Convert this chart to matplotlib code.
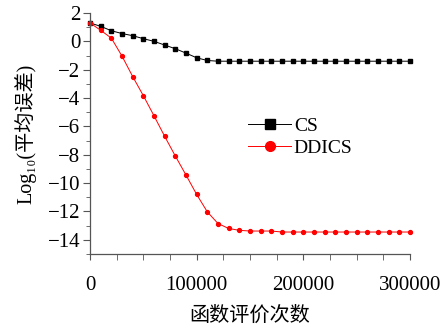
import numpy as np
import matplotlib
matplotlib.use('Agg')
import matplotlib.pyplot as plt
import matplotlib.ticker as ticker

plt.rcParams.update({
    'font.family': ['Liberation Serif', 'DejaVu Serif', 'Noto Sans CJK SC'],
    'axes.unicode_minus': True,
})

# function evaluations (every 10000)
evals = np.arange(0, 300001, 10000)

cs = [1.30, 1.06, 0.75, 0.55, 0.40, 0.19, 0.00, -0.26, -0.52, -0.83, -1.16,
      -1.35, -1.40, -1.40, -1.40, -1.40, -1.40, -1.40, -1.40, -1.40, -1.40,
      -1.40, -1.40, -1.40, -1.40, -1.40, -1.40, -1.40, -1.40, -1.40, -1.40]
ddics = [1.30, 0.78, 0.23, -1.04, -2.48, -3.83, -5.25, -6.70, -8.09, -9.43, -10.80,
         -12.03, -12.85, -13.20, -13.33, -13.38, -13.38, -13.38, -13.45, -13.45, -13.45,
         -13.45, -13.45, -13.45, -13.45, -13.45, -13.45, -13.45, -13.45, -13.45, -13.45]

fig = plt.figure(figsize=(4.43, 3.28), dpi=100)
ax = fig.add_axes([90/443, 1 - 254/328, 320/443, 241/328])

ax.plot(evals, cs, color='black', lw=0.7, marker='s', ms=2.8, label='CS', clip_on=False)
ax.plot(evals, ddics, color='#ff0000', lw=0.7, marker='o', ms=2.8, label='DDICS', clip_on=False)

ax.set_xlim(0, 300000)
ax.set_ylim(-15, 2)
ax.xaxis.set_major_locator(ticker.MultipleLocator(100000))
ax.xaxis.set_minor_locator(ticker.MultipleLocator(25000))
ax.yaxis.set_major_locator(ticker.MultipleLocator(2))
ax.yaxis.set_minor_locator(ticker.MultipleLocator(1))

for s in ['top', 'right']:
    ax.spines[s].set_visible(False)
for s in ['left', 'bottom']:
    ax.spines[s].set_color('#555555')
    ax.spines[s].set_linewidth(0.9)

ax.tick_params(axis='x', which='both', length=4, color='#555555', pad=12, labelsize=15)
ax.tick_params(axis='y', which='major', length=5, color='#555555', pad=2, labelsize=15)
ax.tick_params(axis='y', which='minor', length=3, color='#555555')

ax.set_xlabel('函数评价次数', fontsize=14.5, labelpad=8)
ax.set_ylabel('Log\u2081\u2080(平均误差)', fontsize=14.5, labelpad=8)

ax.legend(loc='upper left', bbox_to_anchor=(0.47, 0.60), frameon=False, fontsize=14,
          handlelength=2.2, handletextpad=0.15, labelspacing=0.25, markerscale=2.5,
          borderaxespad=0)

fig.savefig('out.png', dpi=100)
